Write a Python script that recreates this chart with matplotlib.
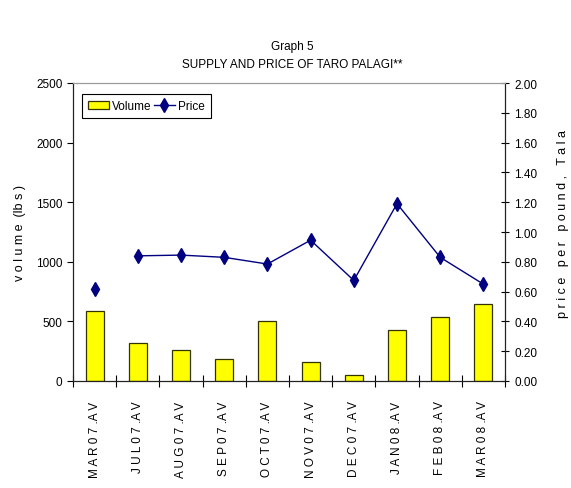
"""Supply and price of taro palagi"""

import numpy as np
import matplotlib
matplotlib.use('Agg')
import matplotlib.pyplot as plt

plt.rcParams['font.family'] = ['Liberation Sans', 'DejaVu Sans']

months = ['MAR07.AV', 'JUL07.AV', 'AUG07.AV', 'SEP07.AV', 'OCT07.AV',
          'NOV07.AV', 'DEC07.AV', 'JAN08.AV', 'FEB08.AV', 'MAR08.AV']
volume = [590, 320, 260, 185, 500, 160, 53, 425, 540, 648]
price = [0.62, 0.84, 0.845, 0.83, 0.785, 0.945, 0.675, 1.19, 0.83, 0.65]


def spaced(s):
    # excel-style letter spacing
    return ' '.join(s).replace('. A', '.A')


fig = plt.figure(figsize=(5.71, 4.89), dpi=100)
ax = fig.add_axes([73/571, 1 - 382/489, (505 - 73)/571, (382 - 84)/489])
ax2 = ax.twinx()

x = np.arange(len(months))
bars = ax.bar(x, volume, width=0.42, color='#ffff00', edgecolor='#333300',
              linewidth=0.9, label='Volume')

# MAR07 is not joined to the rest of the line
navy = '#000080'
ax2.plot(x[:1], price[:1], ls='none', marker='d', ms=7, color=navy)
line, = ax2.plot(x[1:], price[1:], color=navy, lw=1, marker='d', ms=7,
                 label='Price')

ax.set_xlim(-0.5, len(months) - 0.5)
ax.set_ylim(0, 2500)
ax2.set_ylim(0, 2.0)
ax.set_yticks(np.arange(0, 2501, 500))
ax2.set_yticks(np.arange(0, 2.01, 0.2))
ax2.set_yticklabels(['%.2f' % v for v in np.arange(0, 2.01, 0.2)])

ax.set_xticks(x)
ax.set_xticklabels([spaced(m) for m in months], rotation=90, fontsize=8.5)
ax.tick_params(axis='x', length=0, pad=14)
ax.set_xticks(np.arange(-0.5, len(months), 1), minor=True)
ax.tick_params(axis='x', which='minor', direction='inout', length=8, width=0.8)

ax.tick_params(axis='y', direction='out', length=4, width=0.8, labelsize=8.5)
ax2.tick_params(axis='y', direction='inout', length=6, width=0.8, labelsize=8.5)

for a in (ax, ax2):
    a.spines['top'].set_color('#999999')
    a.spines['left'].set_color('#222222')
    a.spines['right'].set_color('#222222')
    a.spines['bottom'].set_color('#222222')

ax.set_ylabel(spaced('volume ') + '(lb s )', fontsize=9, labelpad=7)
ax2.set_ylabel(spaced('price per pound, Tala'), fontsize=9, labelpad=14)
ax2.yaxis.label.set_y(0.53)

fig.text(0.512, 1 - 47/489, 'Graph 5', ha='center', va='center', fontsize=8.5)
fig.text(0.512, 1 - 65/489, 'SUPPLY AND PRICE OF TARO PALAGI**', ha='center',
         va='center', fontsize=8.5)

leg = ax.legend([bars, line], ['Volume', 'Price'], loc='upper left',
                bbox_to_anchor=(0.015, 0.97), ncol=2, fontsize=8.5,
                fancybox=False, edgecolor='black', framealpha=1,
                handlelength=1.8, columnspacing=0.2, handletextpad=0.25,
                borderpad=0.5, borderaxespad=0.2)
leg.get_frame().set_linewidth(0.8)

fig.savefig('out.png', dpi=100)
